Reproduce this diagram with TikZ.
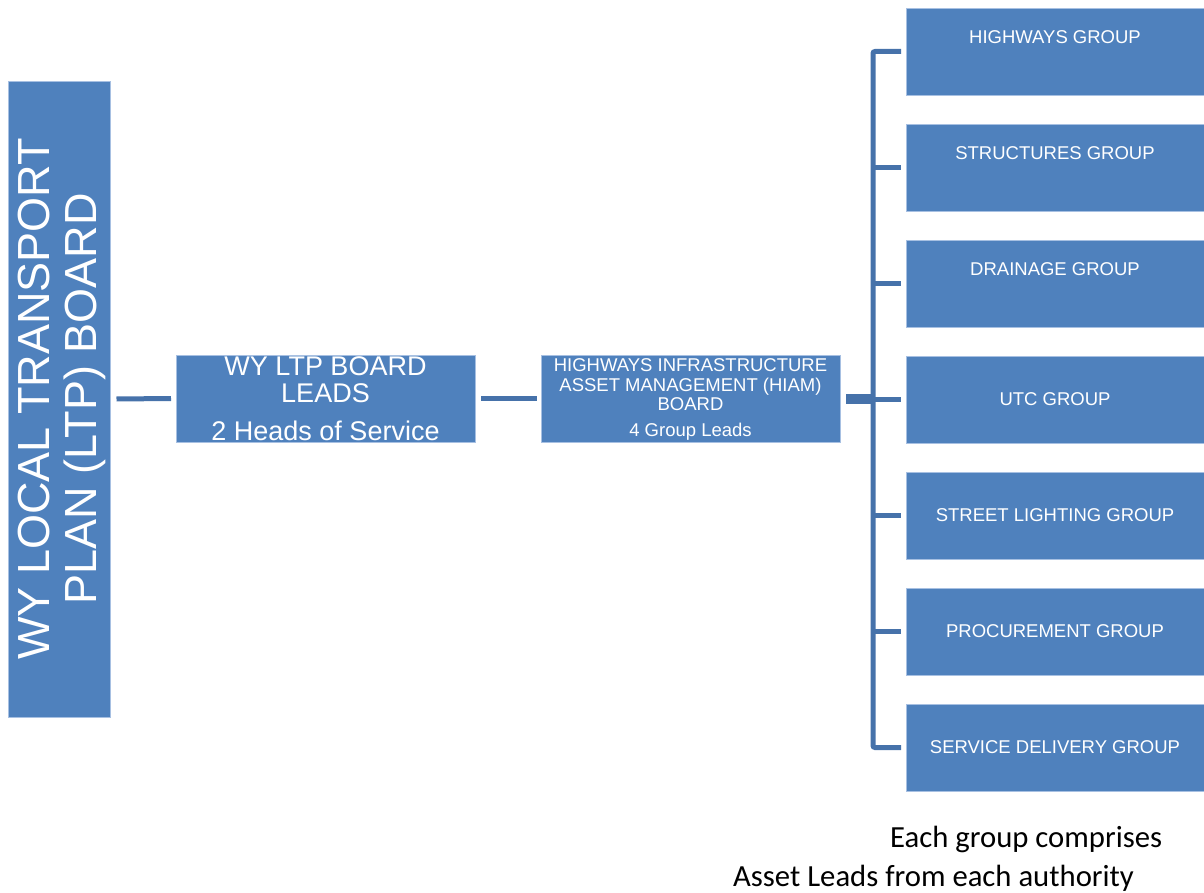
\documentclass[tikz,border=0pt]{standalone}
\usepackage{fontspec}
\setmainfont{Liberation Sans}
\newfontfamily\calibfont{Carlito}
\definecolor{boxblue}{HTML}{4F81BD}
\definecolor{lineblue}{HTML}{4672AA}
\definecolor{edgeblue}{HTML}{A7C0E2}
\begin{document}
\begin{tikzpicture}[x=1pt,y=-1pt,
  orgbox/.style={draw=edgeblue, line width=0.8pt, fill=boxblue, inner sep=0pt, outer sep=0pt, anchor=north west},
  wtxt/.style={text=white, inner sep=0pt, align=center},
  grptxt/.style={wtxt, anchor=base, font=\fontsize{18.5}{19.5}\selectfont},
  conn/.style={draw=lineblue, line width=5pt},
  thickconn/.style={draw=lineblue, line width=10pt},
  bracket/.style={draw=lineblue, line width=5pt, rounded corners=2pt},
  notetxt/.style={inner sep=0pt, anchor=base west, font=\calibfont\fontsize{30.7}{37}\selectfont}
]
\useasboundingbox (0,0) rectangle (1204,893);

% main boxes
\node[orgbox, minimum width=102pt, minimum height=636pt] (ltp) at (8.5,81) {};
\node[orgbox, minimum width=299pt, minimum height=87pt] (leads) at (176,355) {};
\node[orgbox, minimum width=299pt, minimum height=87pt] (hiam) at (541,355) {};

% texts of main boxes
\node[wtxt, rotate=90, font=\fontsize{45}{47}\selectfont] (ltptxt) at (62,399) {WY LOCAL TRANSPORT\\PLAN (LTP) BOARD};
\node[wtxt, anchor=north, font=\fontsize{27}{27}\selectfont] (leadstxt) at (325.5,356.7) {WY LTP BOARD\\LEADS\\[11pt]2 Heads of Service};
\node[wtxt, anchor=north, font=\fontsize{18.5}{19.5}\selectfont] (hiamtxt) at (690.5,358.8) {HIGHWAYS INFRASTRUCTURE\\ASSET MANAGEMENT (HIAM)\\BOARD\\[6.5pt]4 Group Leads};

% group boxes
\foreach \i/\top in {1/8,2/124,3/240,4/356,5/472,6/588,7/704}{
  \node[orgbox, minimum width=299pt, minimum height=87pt] (g\i) at (906,\top) {};
}
\node[grptxt] (g1t) at (1055,44) {HIGHWAYS GROUP};
\node[grptxt] (g2t) at (1055,160) {STRUCTURES GROUP};
\node[grptxt] (g3t) at (1055,276) {DRAINAGE GROUP};
\node[grptxt] (g4t) at (1055,405) {UTC GROUP};
\node[grptxt] (g5t) at (1055,521) {STREET LIGHTING GROUP};
\node[grptxt] (g6t) at (1055,637) {PROCUREMENT GROUP};
\node[grptxt] (g7t) at (1055,753) {SERVICE DELIVERY GROUP};

% connectors
\coordinate (spine) at (873,0);
\draw[conn] ([xshift=6pt]ltp.east) -- ([xshift=-5pt]leads.west);
\draw[conn] ([xshift=6pt]leads.east) -- ([xshift=-4pt]hiam.west);
\draw[thickconn] ([xshift=6pt]hiam.east) -- (hiam.east -| spine);
\draw[bracket] ([xshift=-5pt]g1.west) -- (g1.west -| spine) -- (g7.west -| spine) -- ([xshift=-5pt]g7.west);
\foreach \i in {2,...,6}{
  \draw[conn] (g\i.west -| spine) -- ([xshift=-5pt]g\i.west);
}

% note
\node[notetxt] (note1) at (890,847) {Each group comprises};
\node[notetxt] (note2) at (733,886) {Asset Leads from each authority};
\end{tikzpicture}
\end{document}
